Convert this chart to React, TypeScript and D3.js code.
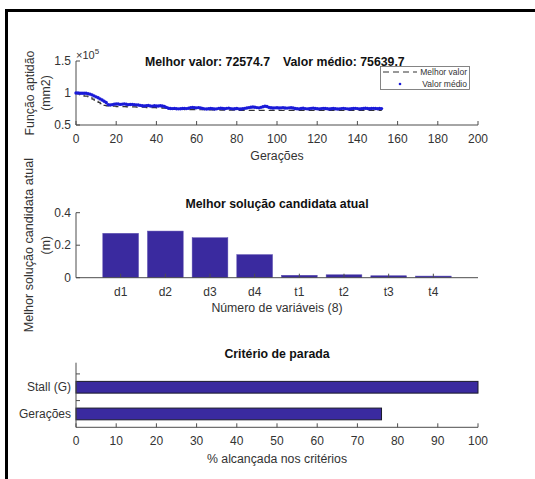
import React from "react";
import * as d3 from "d3";

// ---------- data ----------
const generations = d3.range(0, 153);
// Valor médio (x10^5) for generations 0..152
const meanValues = [
  1.000, 1.000, 0.998, 0.997, 0.996, 0.995, 0.990, 0.982, 0.970, 0.955,
  0.940, 0.925, 0.908, 0.890, 0.872, 0.852, 0.818, 0.812, 0.818, 0.826,
  0.830, 0.828, 0.822, 0.826, 0.830, 0.824, 0.818, 0.820, 0.822, 0.818,
  0.815, 0.812, 0.806, 0.800, 0.798, 0.802, 0.804, 0.798, 0.795, 0.800,
  0.798, 0.796, 0.800, 0.796, 0.790, 0.775, 0.762, 0.758, 0.756, 0.760,
  0.755, 0.752, 0.754, 0.758, 0.760, 0.756, 0.762, 0.772, 0.775, 0.770,
  0.768, 0.772, 0.765, 0.758, 0.752, 0.750, 0.755, 0.758, 0.754, 0.750,
  0.752, 0.760, 0.762, 0.758, 0.755, 0.760, 0.764, 0.756, 0.752, 0.755,
  0.758, 0.752, 0.750, 0.755, 0.760, 0.766, 0.772, 0.778, 0.782, 0.778,
  0.772, 0.768, 0.776, 0.786, 0.792, 0.788, 0.775, 0.770, 0.766, 0.768,
  0.770, 0.766, 0.768, 0.772, 0.766, 0.764, 0.768, 0.770, 0.765, 0.758,
  0.754, 0.752, 0.758, 0.762, 0.756, 0.752, 0.754, 0.760, 0.763, 0.758,
  0.755, 0.752, 0.756, 0.760, 0.757, 0.753, 0.750, 0.754, 0.757, 0.753,
  0.750, 0.752, 0.756, 0.760, 0.756, 0.752, 0.750, 0.754, 0.758, 0.760,
  0.756, 0.752, 0.755, 0.758, 0.762, 0.758, 0.754, 0.757, 0.760, 0.758,
  0.755, 0.757, 0.756,
];
// Melhor valor (x10^5): generation where the best changes, and its value
const bestGen = [0, 1, 2, 3, 4, 6, 7, 8, 9, 10, 11, 12, 13, 14, 15, 17, 20, 25, 30, 35, 40, 43, 45, 46, 47, 51, 54, 60, 65, 72, 80, 100, 130, 152];
const bestVal = [1.0, 0.985, 0.970, 0.962, 0.952, 0.940, 0.925, 0.905, 0.890, 0.870, 0.852, 0.835, 0.820, 0.806, 0.800, 0.795, 0.788, 0.782, 0.777, 0.773, 0.768, 0.762, 0.755, 0.748, 0.745, 0.742, 0.740, 0.738, 0.735, 0.732, 0.730, 0.728, 0.7265, 0.7257];

const titleBest = "Melhor valor: 72574.7";
const titleMean = "Valor médio: 75639.7";

const topXTicks = [0, 20, 40, 60, 80, 100, 120, 140, 160, 180, 200];
const topYTicks = [0.5, 1, 1.5];

const varNames = ["d1", "d2", "d3", "d4", "t1", "t2", "t3", "t4"];
const varValues = [0.273, 0.287, 0.246, 0.142, 0.015, 0.018, 0.012, 0.010];
const midYTicks = [0, 0.2, 0.4];

const stopNames = ["Gerações", "Stall (G)"];
const stopValues = [76, 100];
const botXTicks = [0, 10, 20, 30, 40, 50, 60, 70, 80, 90, 100];
const botYTicks = [1.5, 2.5];

// ---------- style ----------
const FONT = "'Liberation Sans', Arial, Helvetica, sans-serif";
const AXIS = "#4d4d4d";
const TXT = "#333333";
const BAR = "#3a2a9f";
const X0 = 76;
const X1 = 478;
const TICK_FS = 12;
const LAB_FS = 12.3;
const TITLE_FS = 12.3;

function fmt(v: number) {
  return String(v);
}

export default function App() {
  // top plot scales
  const xTop = d3.scaleLinear().domain([0, 200]).range([X0, X1]);
  const yTop = d3.scaleLinear().domain([0.5, 1.5]).range([125, 61]);
  const bestLine = d3
    .line<number>()
    .x((_, i) => xTop(bestGen[i]))
    .y((d) => yTop(d))
    .curve(d3.curveStepAfter)(bestVal);

  // middle plot
  const xMid = d3.scaleLinear().domain([0, 9]).range([X0, X1]);
  const yMid = d3.scaleLinear().domain([0, 0.4]).range([277.7, 212.7]);
  const bw = xMid(0.8) - xMid(0);

  // bottom plot
  const xBot = d3.scaleLinear().domain([0, 100]).range([X0, X1]);
  const yBot = d3.scaleLinear().domain([0.5, 2.92]).range([427.3, 362.7]);
  const bh = yBot(0.5) - yBot(0.94);

  return (
    <svg width={535} height={479} style={{ position: "absolute", left: 0, top: 0, background: "#fff" }} fontFamily={FONT}>
      <rect x={0} y={0} width={535} height={479} fill="#fff" />
      {/* frame */}
      <line x1={6.5} y1={10.5} x2={535} y2={10.5} stroke="#000" strokeWidth={3} />
      <line x1={6.5} y1={9} x2={6.5} y2={479} stroke="#000" strokeWidth={3} />

      {/* ================= TOP ================= */}
      <text x={270} y={65.5} textAnchor="end" fontSize={TITLE_FS} fontWeight="bold" fill="#111">{titleBest}</text>
      <text x={283} y={65.5} textAnchor="start" fontSize={TITLE_FS} fontWeight="bold" fill="#111">{titleMean}</text>
      <text x={76} y={59} fontSize={11} fill={TXT}>
        ×10<tspan fontSize={8} dy={-5}>5</tspan>
      </text>
      {/* axes */}
      <line x1={X0} y1={yTop(0.5)} x2={X1} y2={yTop(0.5)} stroke={AXIS} />
      <line x1={X0} y1={yTop(0.5)} x2={X0} y2={yTop(1.5)} stroke={AXIS} />
      {topXTicks.map((t) => (
        <g key={t}>
          <line x1={xTop(t)} x2={xTop(t)} y1={yTop(0.5)} y2={yTop(0.5) - 4} stroke={AXIS} />
          <text x={xTop(t)} y={142.5} textAnchor="middle" fontSize={TICK_FS} fill={TXT}>{fmt(t)}</text>
        </g>
      ))}
      {topYTicks.map((t) => (
        <g key={t}>
          <line x1={X0} x2={X0 + 4} y1={yTop(t)} y2={yTop(t)} stroke={AXIS} />
          <text x={71} y={yTop(t) + 4.2} textAnchor="end" fontSize={TICK_FS} fill={TXT}>{fmt(t)}</text>
        </g>
      ))}
      <text x={277} y={159.5} textAnchor="middle" fontSize={LAB_FS} fill={TXT}>Gerações</text>
      <text transform={`translate(33.5,${yTop(1)}) rotate(-90)`} textAnchor="middle" fontSize={LAB_FS} fill={TXT}>Função aptidão</text>
      <text transform={`translate(49.5,${yTop(1)}) rotate(-90)`} textAnchor="middle" fontSize={LAB_FS} fill={TXT}>(mm2)</text>
      {/* series */}
      <path d={bestLine ?? ""} fill="none" stroke="#333" strokeWidth={1.2} strokeDasharray="6,4" />
      {meanValues.map((v, i) => (
        <circle key={i} cx={xTop(generations[i])} cy={yTop(v)} r={1.7} fill="#1a1ad8" />
      ))}
      {/* legend */}
      <rect x={380.5} y={66.5} width={89} height={23} fill="#fff" stroke="#666" strokeWidth={0.8} />
      <line x1={383} x2={417} y1={72} y2={72} stroke="#333" strokeWidth={1.2} strokeDasharray="6,4" />
      <text x={467} y={75} textAnchor="end" fontSize={8.5} fill={TXT}>Melhor valor</text>
      <circle cx={400} cy={84} r={1.3} fill="#1a1ad8" />
      <text x={467} y={87} textAnchor="end" fontSize={8.5} fill={TXT}>Valor médio</text>

      {/* ================= MIDDLE ================= */}
      <text x={277} y={207.5} textAnchor="middle" fontSize={TITLE_FS} fontWeight="bold" fill="#111">Melhor solução candidata atual</text>
      {varValues.map((v, i) => (
        <rect key={varNames[i]} x={xMid(i + 1) - bw / 2} y={yMid(v)} width={bw} height={yMid(0) - yMid(v)} fill={BAR} stroke="#5a4cb0" strokeWidth={0.5} />
      ))}
      <line x1={X0} y1={yMid(0)} x2={X1} y2={yMid(0)} stroke={AXIS} />
      <line x1={X0} y1={yMid(0)} x2={X0} y2={yMid(0.4)} stroke={AXIS} />
      {varNames.map((n, i) => (
        <g key={n}>
          <line x1={xMid(i + 1)} x2={xMid(i + 1)} y1={yMid(0)} y2={yMid(0) - 4} stroke={AXIS} />
          <text x={xMid(i + 1)} y={296} textAnchor="middle" fontSize={TICK_FS} fill={TXT}>{n}</text>
        </g>
      ))}
      {midYTicks.map((t) => (
        <g key={t}>
          <line x1={X0} x2={X0 + 4} y1={yMid(t)} y2={yMid(t)} stroke={AXIS} />
          <text x={71} y={yMid(t) + 4.2} textAnchor="end" fontSize={TICK_FS} fill={TXT}>{fmt(t)}</text>
        </g>
      ))}
      <text x={277} y={311.5} textAnchor="middle" fontSize={LAB_FS} fill={TXT}>Número de variáveis (8)</text>
      <text transform={`translate(33,${yMid(0.2)}) rotate(-90)`} textAnchor="middle" fontSize={12.6} fill={TXT}>Melhor solução candidata atual</text>
      <text transform={`translate(49.5,${yMid(0.2)}) rotate(-90)`} textAnchor="middle" fontSize={LAB_FS} fill={TXT}>(m)</text>

      {/* ================= BOTTOM ================= */}
      <text x={277} y={357.5} textAnchor="middle" fontSize={TITLE_FS} fontWeight="bold" fill="#111">Critério de parada</text>
      {stopValues.map((v, i) => (
        <rect key={stopNames[i]} x={xBot(0)} y={yBot(i + 1) - bh / 2} width={xBot(v) - xBot(0)} height={bh} fill={BAR} stroke="#1a1a2a" strokeWidth={1} />
      ))}
      <line x1={X0} y1={yBot(0.5)} x2={X1} y2={yBot(0.5)} stroke={AXIS} />
      <line x1={X0} y1={yBot(0.5)} x2={X0} y2={yBot(2.92)} stroke={AXIS} />
      {botXTicks.map((t) => (
        <g key={t}>
          <line x1={xBot(t)} x2={xBot(t)} y1={yBot(0.5)} y2={yBot(0.5) - 4} stroke={AXIS} />
          <text x={xBot(t)} y={444.5} textAnchor="middle" fontSize={TICK_FS} fill={TXT}>{fmt(t)}</text>
        </g>
      ))}
      {botYTicks.map((t) => (
        <line key={t} x1={X0} x2={X0 + 4} y1={yBot(t)} y2={yBot(t)} stroke={AXIS} />
      ))}
      {stopNames.map((n, i) => (
        <text key={n} x={71} y={yBot(i + 1) + 4.2} textAnchor="end" fontSize={TICK_FS} fill={TXT}>{n}</text>
      ))}
      <text x={277} y={462.5} textAnchor="middle" fontSize={LAB_FS} fill={TXT}>% alcançada nos critérios</text>
    </svg>
  );
}
